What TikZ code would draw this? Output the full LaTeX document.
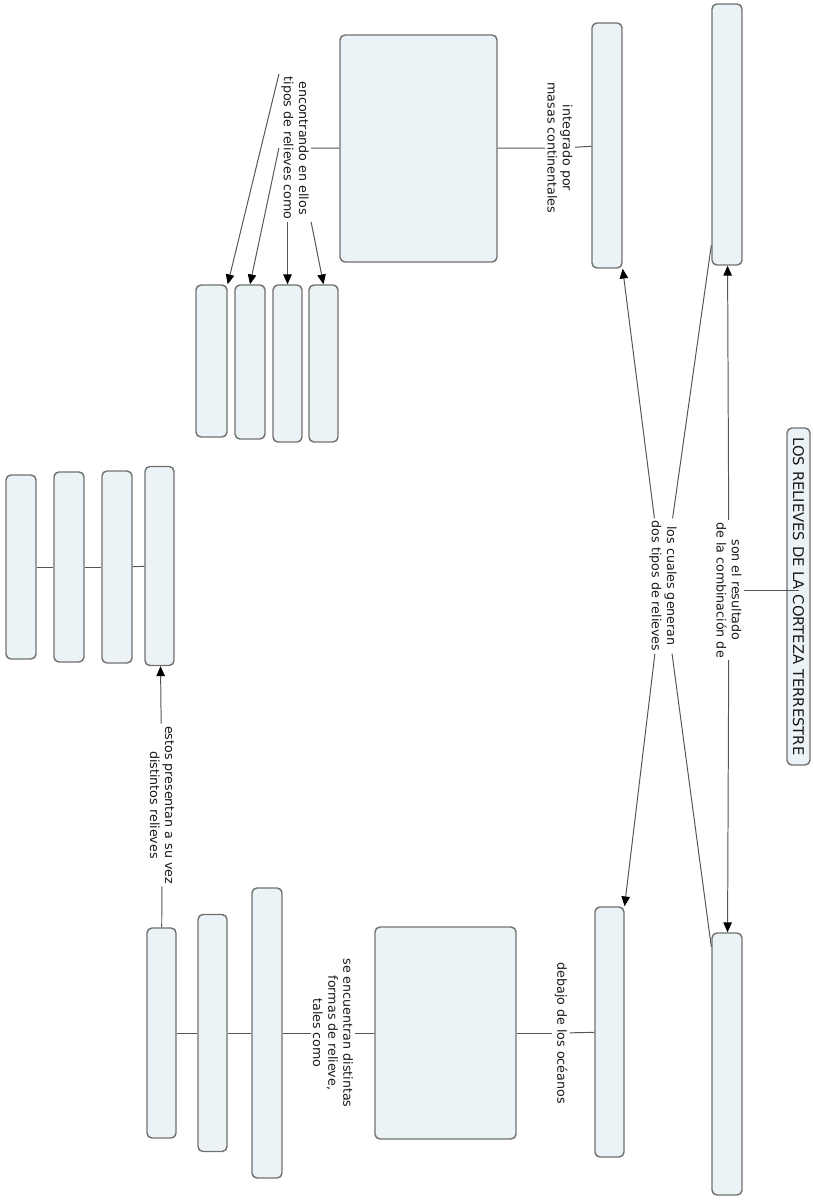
\documentclass[tikz,border=0pt]{standalone}
\usepackage{fontspec}
\setmainfont{DejaVu Sans}
\usepackage{xcolor}
\usetikzlibrary{arrows.meta}
\definecolor{boxfill}{RGB}{236,243,246}
\definecolor{boxline}{RGB}{112,112,112}
\definecolor{linkline}{RGB}{85,85,85}
\newcommand{\px}{0.025cm}
\tikzset{
  cbox/.style={draw=boxline, fill=boxfill, line width=1pt, rounded corners=3.5pt, inner sep=0pt},
  lbl/.style={rotate=-90, align=center, inner sep=1.5pt, font=\fontsize{9}{10.8}\selectfont, text=black!90},
  link/.style={draw=linkline, line width=0.7pt},
  arr/.style={link, -{Triangle[length=7pt,width=6pt,color=black]}}
}

\begin{document}
\begin{tikzpicture}[x=\px, y=-\px]
\useasboundingbox (0,0) rectangle (812,1200);
\node[cbox, rotate=-90, minimum width=337*\px, minimum height=23*\px, font=\fontsize{10.5}{12}\selectfont, text=black!90] (T) at (798.5,596.5) {LOS RELIEVES DE LA CORTEZA TERRESTRE};
\node[cbox, minimum width=30*\px, minimum height=261*\px] (R1) at (727,134.5) {};
\node[cbox, minimum width=30*\px, minimum height=262*\px] (R2) at (727,1064) {};
\node[cbox, minimum width=30*\px, minimum height=245*\px] (A) at (607,145.5) {};
\node[cbox, minimum width=29*\px, minimum height=250*\px] (B) at (609.5,1032) {};
\node[cbox, minimum width=157*\px, minimum height=227*\px] (C) at (418.5,148.5) {};
\node[cbox, minimum width=141*\px, minimum height=212*\px] (D) at (445.5,1033) {};
\node[cbox, minimum width=31*\px, minimum height=152*\px] (b1) at (211.5,361) {};
\node[cbox, minimum width=30*\px, minimum height=154*\px] (b2) at (250,362) {};
\node[cbox, minimum width=29*\px, minimum height=157*\px] (b3) at (287.5,363.5) {};
\node[cbox, minimum width=29*\px, minimum height=157*\px] (b4) at (323.5,363.5) {};
\node[cbox, minimum width=30*\px, minimum height=184*\px] (E1) at (21,567) {};
\node[cbox, minimum width=30*\px, minimum height=190*\px] (E2) at (69,567) {};
\node[cbox, minimum width=30*\px, minimum height=192*\px] (E3) at (117,567) {};
\node[cbox, minimum width=29*\px, minimum height=199*\px] (E4) at (159.5,566) {};
\node[cbox, minimum width=29*\px, minimum height=210*\px] (F1) at (161.5,1033) {};
\node[cbox, minimum width=29*\px, minimum height=237*\px] (F2) at (212.5,1033) {};
\node[cbox, minimum width=30*\px, minimum height=290*\px] (F3) at (267,1033) {};

\node[lbl] (l2) at (729,590) {son el resultado\\de la combinación de};
\node[lbl] (l3) at (663,586) {los cuales generan\\dos tipos de relieves};
\node[lbl] (l5) at (560,148) {integrado por\\masas continentales};
\node[lbl] (l4) at (295,148) {encontrando en ellos\\tipos de relieves como};
\node[lbl] (l6) at (561,1033) {debajo de los océanos};
\node[lbl] (l7) at (333,1033) {se encuentran distintas\\formas de relieve,\\tales como};
\node[lbl] (l8) at (162,805) {estos presentan a su vez\\distintos relieves};

\draw[link] (l2) -- (l2 -| T.west);
\draw[arr] (l2) -- (R1);
\draw[arr] (l2) -- (R2);
\draw[link] (R1) -- (l3);
\draw[link] (R2) -- (l3);
\draw[arr] (l3) -- (A);
\draw[arr] (l3) -- (B);
\draw[link] (A) -- (l5);
\draw[link] (l5) -- (C);
\draw[link] (C) -- (l4);
\draw[arr] (l4.south west) -- (b1.north east);
\draw[arr] (l4.south) -- (b2.north);
\draw[arr] (b3.north |- l4.east) -- (b3.north);
\draw[arr] (l4.north east) -- (b4.north);
\draw[link] (B) -- (l6);
\draw[link] (l6) -- (D);
\draw[link] (D) -- (l7);
\draw[link] (l7) -- (F3);
\draw[link] (F3) -- (F2);
\draw[link] (F2) -- (F1);
\draw[link] (F1) -- (l8);
\draw[arr] (l8) -- (E4);
\draw[link] (E4) -- (E3);
\draw[link] (E3) -- (E2);
\draw[link] (E2) -- (E1);
\end{tikzpicture}
\end{document}
